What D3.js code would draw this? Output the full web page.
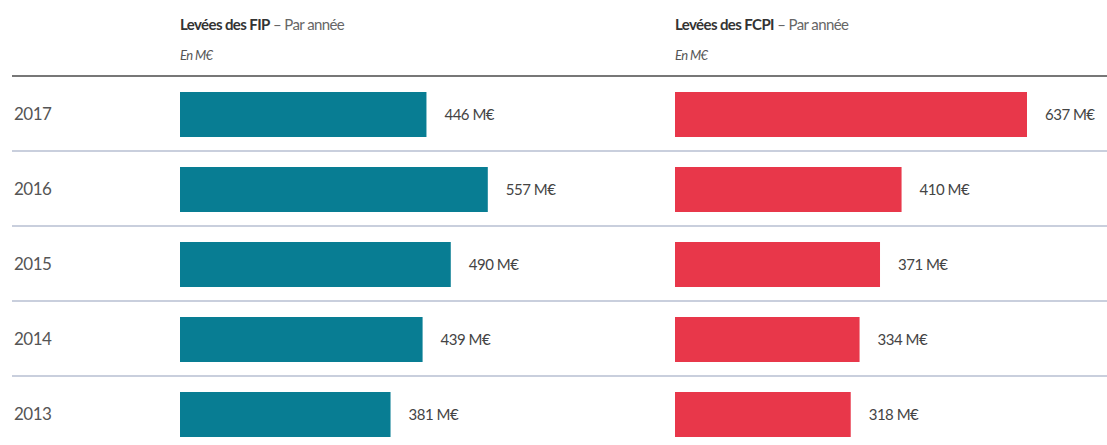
<!DOCTYPE html>
<html lang="fr">
<head>
<meta charset="utf-8">
<title>Levées FIP / FCPI</title>
<script src="https://d3js.org/d3.v7.min.js"></script>
<style>
body { margin: 0; background: #fff; }
text { font-family: Lato, "Noto Sans", sans-serif; }
.year { fill: #555; font-size: 17px; letter-spacing: -0.5px; }
.val { fill: #444; font-size: 15px; letter-spacing: -0.5px; }
.ttl { fill: #333; font-size: 15px; letter-spacing: -0.6px; }
.sub { fill: #555; font-size: 13px; font-style: italic; letter-spacing: -0.6px; }
</style>
</head>
<body>
<script>
var years = ["2017", "2016", "2015", "2014", "2013"];
var fip = [446, 557, 490, 439, 381];
var fcpi = [637, 410, 371, 334, 318];
var unit = " M€";

var w = 1107, h = 445;

var svg = d3.select("body").append("svg")
    .attr("width", w)
    .attr("height", h);

// rows
var y = d3.scaleBand()
    .domain(years)
    .range([77, 452])
    .paddingInner(0.4)
    .paddingOuter(0.2);

// shared width scale for both panels
var x = d3.scaleLinear().domain([0, 637]).range([0, 352]);

var panels = [
  {x0: 180, data: fip, color: "#087d93", name: "Levées des FIP"},
  {x0: 675, data: fcpi, color: "#e8374a", name: "Levées des FCPI"}
];

// top rule
svg.append("line")
    .attr("x1", 12).attr("x2", w)
    .attr("y1", 76).attr("y2", 76)
    .attr("stroke", "#777").attr("stroke-width", 2);

// row separators
svg.selectAll(".sep")
    .data(years.slice(1))
    .enter().append("line")
    .attr("class", "sep")
    .attr("x1", 12).attr("x2", w)
    .attr("y1", function(d) { return y(d) - y.step() * y.paddingInner() / 2 - 1; })
    .attr("y2", function(d) { return y(d) - y.step() * y.paddingInner() / 2 - 1; })
    .attr("stroke", "#c9cfdd").attr("stroke-width", 2);

svg.selectAll(".year")
    .data(years)
    .enter().append("text")
    .attr("class", "year")
    .attr("x", 14)
    .attr("y", function(d) { return y(d) + y.bandwidth() / 2; })
    .attr("dy", "0.35em")
    .text(function(d) { return d; });

panels.forEach(function(p) {
    var g = svg.append("g").attr("transform", "translate(" + p.x0 + ",0)");

    var t = g.append("text").attr("class", "ttl").attr("x", 0).attr("y", 30);
    t.append("tspan").attr("font-weight", "bold").text(p.name);
    t.append("tspan").attr("fill", "#666").text(" – Par année");

    g.append("text").attr("class", "sub").attr("x", 0).attr("y", 60).text("En M€");

    g.selectAll("rect")
        .data(p.data)
        .enter().append("rect")
        .attr("x", 0)
        .attr("y", function(d, i) { return y(years[i]); })
        .attr("width", function(d) { return x(d); })
        .attr("height", y.bandwidth())
        .attr("fill", p.color);

    g.selectAll(".val")
        .data(p.data)
        .enter().append("text")
        .attr("class", "val")
        .attr("x", function(d) { return x(d) + 18; })
        .attr("y", function(d, i) { return y(years[i]) + y.bandwidth() / 2; })
        .attr("dy", "0.35em")
        .text(function(d) { return d + unit; });
});
</script>
</body>
</html>
